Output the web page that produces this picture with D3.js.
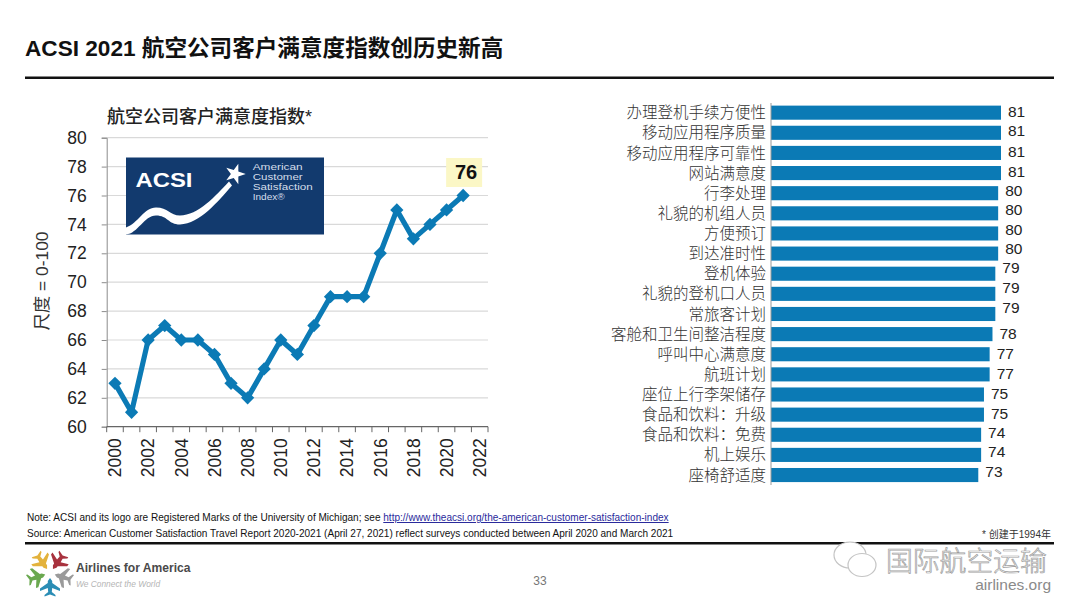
<!DOCTYPE html>
<html>
<head>
<meta charset="utf-8">
<script src="https://cdn.jsdelivr.net/npm/d3@7"></script>
<style>
  html, body { margin: 0; padding: 0; background: #fff; }
  svg { display: block; }
  text { font-family: "Liberation Sans", Arial, sans-serif; }
  .cjk { font-family: "Liberation Sans", "Noto Sans CJK SC", sans-serif; }
  .axis text { font-family: "Liberation Sans", Arial, sans-serif; }
</style>
</head>
<body>
<svg id="chart" width="1080" height="608"></svg>
<script>
// ACSI index by year
const years = [2000, 2001, 2002, 2003, 2004, 2005, 2006, 2007, 2008, 2009, 2010, 2011,
    2012, 2013, 2014, 2015, 2016, 2017, 2018, 2019, 2020, 2021, 2022];
const acsiYears = years.slice(0, 22);
const acsiScores = [63, 61, 66, 67, 66, 66, 65, 63, 62, 64, 66, 65, 67, 69, 69, 69, 72, 75, 73, 74, 75, 76];
const yTicks = [60, 62, 64, 66, 68, 70, 72, 74, 76, 78, 80];

// Satisfaction by service attribute
const attributes = [
    '办理登机手续方便性', '移动应用程序质量', '移动应用程序可靠性', '网站满意度', '行李处理',
    '礼貌的机组人员', '方便预订', '到达准时性', '登机体验', '礼貌的登机口人员',
    '常旅客计划', '客舱和卫生间整洁程度', '呼叫中心满意度', '航班计划', '座位上行李架储存',
    '食品和饮料：升级', '食品和饮料：免费', '机上娱乐', '座椅舒适度'
];
const attributeScores = [81, 81, 81, 81, 80, 80, 80, 80, 79, 79, 79, 78, 77, 77, 75, 75, 74, 74, 73];
// the value labels drift up from their bars in the original
const labelNudge = [-1, -2, -2, -2, -3, -4, -4.5, -5, -6, -6.5, -7, -0.5, -1, -1, -1, -1.5, -2.5, -3, -4];

const svg = d3.select('#chart');
const ink = '#222';
const blue = '#0b7ab5';

svg.append('rect').attr('width', 1080).attr('height', 608).attr('fill', '#fff');

// Header
svg.append('text').attr('class', 'cjk')
    .attr('x', 25).attr('y', 56)
    .attr('font-size', 22.6).attr('font-weight', 700).attr('fill', '#111')
    .text('ACSI 2021 航空公司客户满意度指数创历史新高');
svg.append('rect').attr('x', 25).attr('y', 76.5).attr('width', 1029).attr('height', 2.5).attr('fill', '#111');

// ---- Line chart ----
const x = d3.scaleBand().domain(years).range([106.7, 488]);
const y = d3.scaleLinear().domain([60, 80]).range([426.7, 137.7]);

svg.append('text').attr('class', 'cjk')
    .attr('x', 107).attr('y', 123)
    .attr('font-size', 18).attr('font-weight', 500).attr('fill', ink)
    .text('航空公司客户满意度指数*');

svg.append('g')
    .selectAll('line')
    .data(yTicks.slice(1))
    .join('line')
    .attr('x1', 106.7).attr('x2', 488)
    .attr('y1', d => y(d)).attr('y2', d => y(d))
    .attr('stroke', '#d9d9d9').attr('stroke-width', 1.2);

const yAxis = svg.append('g').attr('class', 'axis')
    .attr('transform', 'translate(106.7,0)')
    .call(d3.axisLeft(y).tickValues(yTicks).tickSize(5).tickPadding(15).tickFormat(d3.format('d')));
yAxis.selectAll('text').attr('font-size', 17.5).attr('fill', ink);
yAxis.selectAll('line, path').attr('stroke', '#8c8c8c');

// band edges carry the ticks, so the axis is drawn by hand from the scale
const xAxis = svg.append('g').attr('class', 'axis').attr('transform', 'translate(0,426.7)');
xAxis.append('line').attr('x1', 106.7).attr('x2', 488).attr('stroke', '#666').attr('stroke-width', 1.2);
xAxis.selectAll('.tick-mark')
    .data(years.concat([2023]))
    .join('line')
    .attr('class', 'tick-mark')
    .attr('x1', d => d === 2023 ? 488 : x(d))
    .attr('x2', d => d === 2023 ? 488 : x(d))
    .attr('y2', 5.5)
    .attr('stroke', '#666');
xAxis.selectAll('text')
    .data(years.filter(d => d % 2 === 0))
    .join('text')
    .attr('transform', d => `translate(${x(d) + x.bandwidth() / 2},31) rotate(-90)`)
    .attr('text-anchor', 'middle')
    .attr('dy', '0.36em')
    .attr('font-size', 17.5)
    .attr('fill', ink)
    .text(d => d);

svg.append('text').attr('class', 'cjk')
    .attr('transform', 'translate(42,281) rotate(-90)')
    .attr('text-anchor', 'middle').attr('dy', '0.36em')
    .attr('font-size', 17.4).attr('fill', '#333')
    .text('尺度 = 0-100');

// ACSI logo
const logo = svg.append('g').attr('transform', 'translate(126,157.5)');
logo.append('rect').attr('width', 198).attr('height', 77).attr('fill', '#123a6e');
logo.append('path')
    .attr('d', 'M0,70 C12,66 18,50 30,50 C42,50 44,58 54,58 C72,58 90,38 103,24 L106,28 C92,44 74,66 54,67 C42,67 42,58 30,58 C18,58 12,76 0,77 Z')
    .attr('fill', '#fff');
logo.append('path')
    .attr('d', d3.symbol(d3.symbolStar, 130)())
    .attr('transform', 'translate(109,16.5) rotate(18)')
    .attr('fill', '#fff');
logo.append('text').attr('x', 9.5).attr('y', 29.5)
    .attr('font-size', 20.5).attr('font-weight', 700).attr('fill', '#fff')
    .attr('textLength', 57).attr('lengthAdjust', 'spacingAndGlyphs')
    .text('ACSI');
// the logo face is wide, so each line is stretched to its measured length
[['American', 50], ['Customer', 50], ['Satisfaction', 60], ['Index®', 32]].forEach(([t, w], i) => {
    logo.append('text').attr('x', 126.7).attr('y', 12 + i * 10.3)
        .attr('font-size', 9.5).attr('fill', '#d5deea')
        .attr('textLength', w).attr('lengthAdjust', 'spacingAndGlyphs')
        .text(t);
});

// Line and diamond markers
const line = d3.line()
    .x((d, i) => x(acsiYears[i]) + x.bandwidth() / 2)
    .y(d => y(d));

svg.append('path')
    .datum(acsiScores)
    .attr('d', line)
    .attr('fill', 'none')
    .attr('stroke', blue)
    .attr('stroke-width', 5.2)
    .attr('stroke-linejoin', 'round');

svg.append('g')
    .selectAll('path')
    .data(acsiScores)
    .join('path')
    .attr('d', d3.symbol(d3.symbolSquare, 88)())
    .attr('transform', (d, i) => `translate(${x(acsiYears[i]) + x.bandwidth() / 2},${y(d)}) rotate(45)`)
    .attr('fill', blue);

// Callout on the latest value
const lastX = x(acsiYears[acsiYears.length - 1]) + x.bandwidth() / 2;
const lastScore = acsiScores[acsiScores.length - 1];
svg.append('rect')
    .attr('x', lastX - 17).attr('y', y(lastScore) - 37.5)
    .attr('width', 36).attr('height', 29)
    .attr('fill', '#fbf7c6');
svg.append('text')
    .attr('x', lastX + 3).attr('y', y(lastScore) - 16.5)
    .attr('text-anchor', 'middle')
    .attr('font-size', 20).attr('font-weight', 700).attr('fill', '#111')
    .text(lastScore);

// ---- Bar chart ----
const bx = d3.scaleLinear().domain([0, 81]).range([771, 1001]);
const by = d3.scaleBand().domain(attributes).range([102.6, 485.1]).paddingInner(0.3).paddingOuter(0.15);

svg.append('g')
    .selectAll('rect')
    .data(attributeScores)
    .join('rect')
    .attr('x', bx(0))
    .attr('y', (d, i) => by(attributes[i]))
    .attr('width', d => bx(d) - bx(0))
    .attr('height', by.bandwidth())
    .attr('fill', blue);

svg.append('line')
    .attr('x1', 771).attr('x2', 771).attr('y1', 103).attr('y2', 485)
    .attr('stroke', '#999');

svg.append('g')
    .selectAll('text')
    .data(attributes)
    .join('text')
    .attr('class', 'cjk')
    .attr('x', 766)
    .attr('y', d => by(d) + by.bandwidth() / 2)
    .attr('dy', '0.36em')
    .attr('text-anchor', 'end')
    .attr('font-size', 15.5)
    .attr('font-weight', 300)
    .attr('fill', '#333')
    .text(d => d);

svg.append('g')
    .selectAll('text')
    .data(attributeScores)
    .join('text')
    .attr('x', d => bx(d) + 7)
    .attr('y', (d, i) => by(attributes[i]) + by.bandwidth() / 2 + labelNudge[i])
    .attr('dy', '0.36em')
    .attr('font-size', 15.5)
    .attr('fill', ink)
    .text(d => d);

// ---- Footer ----
const note = svg.append('text').attr('x', 27).attr('y', 521).attr('font-size', 10.05).attr('fill', '#111');
note.append('tspan').text('Note: ACSI and its logo are Registered Marks of the University of Michigan; see ');
note.append('tspan').attr('fill', '#2a2a9c').attr('text-decoration', 'underline')
    .text('http://www.theacsi.org/the-american-customer-satisfaction-index');
svg.append('text').attr('x', 27).attr('y', 537).attr('font-size', 10.05).attr('fill', '#111')
    .text('Source: American Customer Satisfaction Travel Report 2020-2021 (April 27, 2021) reflect surveys conducted between April 2020 and March 2021');
svg.append('text').attr('class', 'cjk').attr('x', 1051).attr('y', 537.5)
    .attr('text-anchor', 'end').attr('font-size', 10).attr('fill', '#333')
    .text('* 创建于1994年');
svg.append('rect').attr('x', 25).attr('y', 542).attr('width', 1029).attr('height', 2.5).attr('fill', '#111');

// Airlines for America mark: five planes, noses toward the centre
const planeColors = ['#e3b23c', '#a8323e', '#9a9a9a', '#2a8db5', '#6aa84f'];
const planeAngles = [-36, 36, 108, 180, 252];
const plane = 'M0,-5 L2.2,-8 L2.2,-10 L10,-15.5 L10,-18 L2.2,-15 L1.8,-19 L5.5,-22 L5.5,-23.5 L0,-21.5 L-5.5,-23.5 L-5.5,-22 L-1.8,-19 L-2.2,-15 L-10,-18 L-10,-15.5 L-2.2,-10 L-2.2,-8 Z';
svg.append('g').attr('transform', 'translate(50,573)')
    .selectAll('path')
    .data(planeAngles)
    .join('path')
    .attr('d', plane)
    .attr('transform', d => `rotate(${d})`)
    .attr('fill', (d, i) => planeColors[i]);
svg.append('text').attr('x', 76).attr('y', 572)
    .attr('font-size', 12.1).attr('font-weight', 700).attr('fill', '#4a4a4a').text('Airlines for America');
svg.append('text').attr('x', 76).attr('y', 587)
    .attr('font-size', 8.4).attr('font-style', 'italic').attr('fill', '#b5b5b5').text('We Connect the World');
svg.append('text').attr('x', 540).attr('y', 585).attr('text-anchor', 'middle')
    .attr('font-size', 12).attr('fill', '#777').text('33');

// Watermark
const bubbles = svg.append('g').attr('fill', '#fff').attr('stroke', '#c4c4c4').attr('stroke-width', 1.2);
bubbles.append('ellipse').attr('cx', 850).attr('cy', 555).attr('rx', 16).attr('ry', 13);
bubbles.append('ellipse').attr('cx', 862).attr('cy', 565).attr('rx', 14).attr('ry', 11.5);
svg.append('text').attr('class', 'cjk').attr('x', 886).attr('y', 571)
    .attr('font-size', 26.8).attr('font-weight', 300).attr('fill', '#fff')
    .attr('stroke', '#9c9c9c').attr('stroke-width', 0.7)
    .text('国际航空运输');
svg.append('text').attr('x', 1051).attr('y', 590).attr('text-anchor', 'end')
    .attr('font-size', 15.5).attr('fill', '#8a8a8a').text('airlines.org');
</script>
</body>
</html>
